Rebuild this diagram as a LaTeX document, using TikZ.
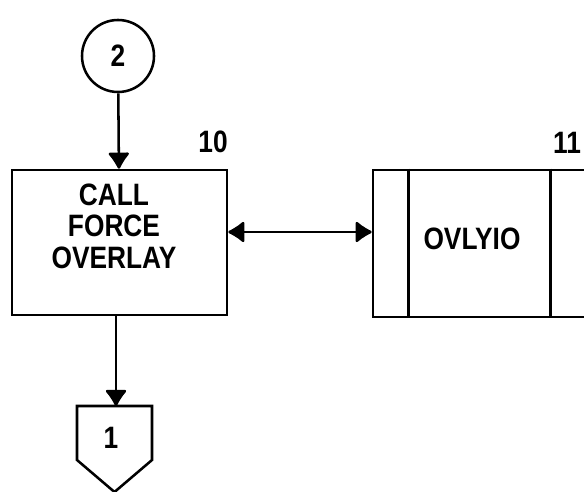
\documentclass[tikz,border=0pt]{standalone}
\usepackage{fontspec}
\setmainfont{Liberation Sans}[FakeStretch=0.85]
\usetikzlibrary{arrows.meta, positioning, calc}
\tikzset{
	procbox/.style={draw, line width=1.8pt, minimum width=5.375cm, minimum height=3.625cm, inner sep=0pt},
	connector/.style={draw, circle, line width=1.8pt, minimum size=1.8cm, inner sep=0pt},
	flowarr/.style={-{Latex[length=0.45cm, width=0.6cm, round]}, line width=1.8pt},
	dblarr/.style={{Latex[length=0.45cm, width=0.6cm, round]}-{Latex[length=0.45cm, width=0.6cm, round]}, line width=1.8pt},
	refnum/.style={anchor=south},
}

\begin{document}
\begin{tikzpicture}[x=0.025cm, y=-0.025cm, every node/.style={font=\fontsize{22}{22.5}\bfseries\selectfont, align=center}]
	\useasboundingbox (0,0) rectangle (584,492);
	\clip (0,0) rectangle (584,492);
	% Entry connector
	\node[connector] (in2) at (118,56) {2};
	% Process box 10
	\node[procbox] (call) at (119.5,242.5) {};
	\node (calltxt) at (114,226) {CALL\\FORCE\\OVERLAY};
	\node[refnum] (n10) at (213,158) {10};
	% Predefined process 11 (cut at right edge)
	\node[procbox, minimum width=5.675cm, minimum height=3.675cm] (ovly) at (486.5,243.5) {};
	\draw[line width=1.8pt] ($(ovly.north west)+(37,0)$) -- ($(ovly.south west)+(37,0)$);
	\draw[line width=1.8pt] ($(ovly.north west)+(179,0)$) -- ($(ovly.south west)+(179,0)$);
	\node (ovlytxt) at (472,239) {OVLYIO};
	\node[refnum] (n11) at (567,158) {11};
	% Off-page connector 1
	\coordinate (off1) at (116,406);
	\draw[line width=1.8pt] (77,406) -- (152,406) -- (152,460) -- (114.5,492) -- (77,460) -- cycle;
	\node (lbl1) at (111,438) {1};
	% Flow lines
	\draw[flowarr] (in2) -- (call);
	\draw[dblarr] (call.east |- 0,232) -- (ovly.west |- 0,232);
	\draw[flowarr] (call.south -| off1) -- (off1);
\end{tikzpicture}
\end{document}
